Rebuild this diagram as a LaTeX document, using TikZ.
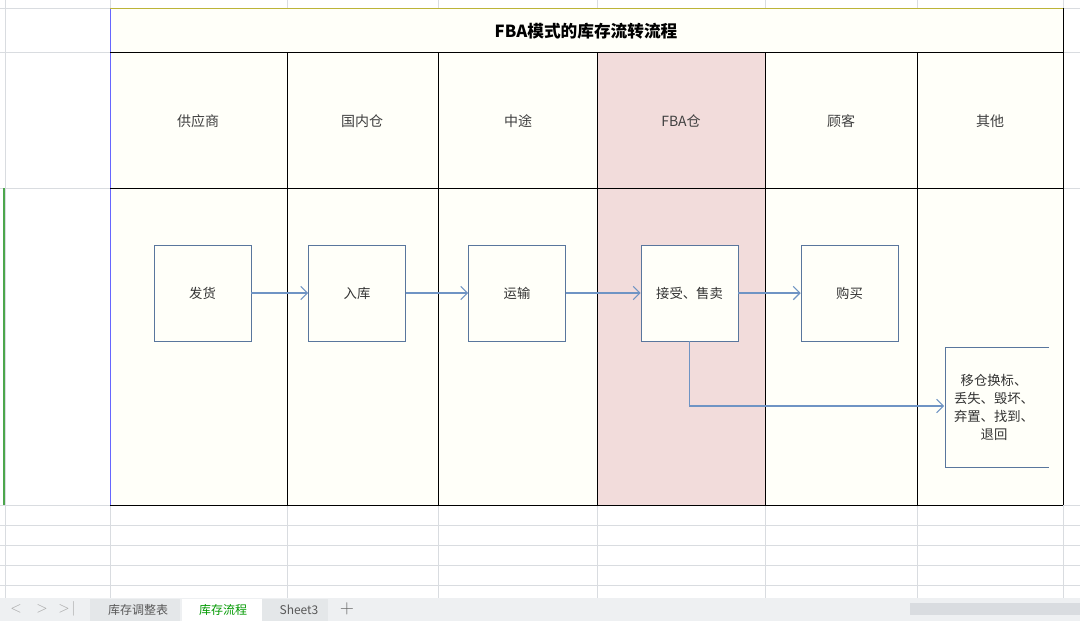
\documentclass[tikz,border=0pt]{standalone}
\usepackage{fontspec}
\newfontfamily\cjk{Noto Sans CJK SC}
\usetikzlibrary{arrows.meta}
\definecolor{cream}{HTML}{FFFFF9}
\definecolor{pinkc}{HTML}{F2DCDB}
\definecolor{gridc}{HTML}{D9DCE0}
\definecolor{flow}{HTML}{6F94C4}
\definecolor{tabbg}{HTML}{EEF0F2}
\tikzset{
  px/.style={x=0.75pt,y=-0.75pt},
  box/.style={draw=flow!80!black,fill=cream,minimum width=72.75pt,minimum height=72pt,inner sep=0pt,font=\cjk\fontsize{10}{12}\selectfont,text=black!80},
  hdr/.style={font=\cjk\fontsize{10.5}{12}\selectfont,text=black!75},
  arr/.style={draw=flow,-{Straight Barb[length=5pt]},line width=0.8pt},
  grid/.style={draw=gridc,line width=0.6pt},
  tab/.style={font=\cjk\fontsize{9}{10}\selectfont,text=black!65}
}
\begin{document}
\begin{tikzpicture}[px]
\useasboundingbox (0,0) rectangle (1080,621);
\fill[white] (0,0) rectangle (1080,621);
% grid outside
\foreach \y in {8,52,188,505,525,545,565,585} \draw[grid] (0,\y) -- (1080,\y);
\foreach \x in {5,110,287,438,597,765,917,1063} \draw[grid] (\x,0) -- (\x,598);
% table
\fill[cream] (110,8) rectangle (1063,505);
\fill[pinkc] (597,52) rectangle (765,505);
\draw[green!50!black!70,line width=2pt] (4,188) -- (4,505);
\draw[blue!60,line width=0.6pt] (110,8) -- (110,505);
\draw[black,line width=0.7pt] (110,52) -- (1063,52) (110,188) -- (1063,188) (110,505) -- (1063,505);
\foreach \x in {287,438,597,765,917} \draw[black,line width=0.7pt] (\x,52) -- (\x,505);
\draw[black,line width=0.7pt] (1063,8) -- (1063,505);
\draw[yellow!70!black,line width=0.5pt] (110,8) -- (1063,8);
\node[font=\cjk\bfseries\fontsize{12.5}{14}\selectfont] (title) at (586,31) {FBA模式的库存流转流程};
\node[hdr] (h1) at (198,121) {供应商};
\node[hdr] (h2) at (362,121) {国内仓};
\node[hdr] (h3) at (518,121) {中途};
\node[hdr] (h4) at (681,121) {FBA仓};
\node[hdr] (h5) at (841,121) {顾客};
\node[hdr] (h6) at (990,121) {其他};
% boxes
\node[box] (b1) at (202.5,293) {发货};
\node[box] (b2) at (357,293) {入库};
\node[box] (b3) at (517,293) {运输};
\node[box] (b4) at (689.5,293) {接受、售卖};
\node[box] (b5) at (849.5,293) {购买};
\fill[cream] (945,347) rectangle (1049,467);
\draw[draw=flow!80!black] (1049,347) -- (945,347) -- (945,467) -- (1049,467);
\node[align=center,font=\cjk\fontsize{10}{13.5}\selectfont,text=black!80] (b6) at (994,407) {移仓换标、\\丢失、毁坏、\\弃置、找到、\\退回};
\coordinate (b6w) at (944,406);
\draw[arr] (b1) -- (b2);
\draw[arr] (b2) -- (b3);
\draw[arr] (b3) -- (b4);
\draw[arr] (b4) -- (b5);
\draw[arr] (b4.south) |- (b6w);
% tab bar
\fill[tabbg] (0,598) rectangle (1080,621);
\node[text=black!35,font=\fontsize{11}{12}\selectfont] (n1) at (16,609) {$<$};
\node[text=black!35,font=\fontsize{11}{12}\selectfont] (n2) at (42,609) {$>$};
\node[text=black!35,font=\fontsize{11}{12}\selectfont] (n3) at (67,609) {$>\!|$};
\fill[gridc!70] (90,599) rectangle (180,621);
\node[tab] (t1) at (138,610) {库存调整表};
\fill[white] (182,599) rectangle (262,621);
\node[tab,text=green!60!black] (t2) at (223,610) {库存流程};
\fill[gridc!70] (262,599) rectangle (328,621);
\node[tab] (t3) at (299,610) {Sheet3};
\node[text=black!60,font=\fontsize{14}{14}\selectfont] (plus) at (347,609) {+};
\fill[gridc] (910,603) rectangle (1080,615);
\end{tikzpicture}
\end{document}
